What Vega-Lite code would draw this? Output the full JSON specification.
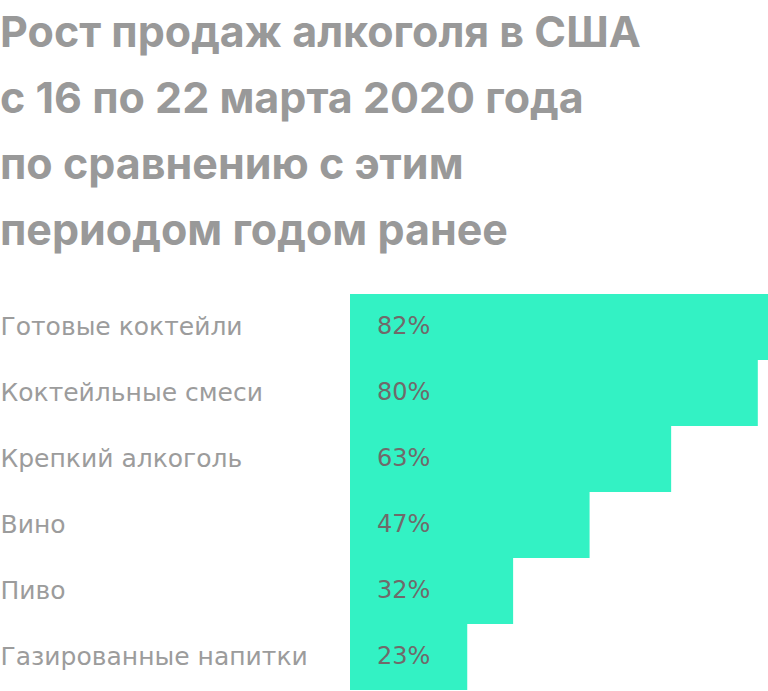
{
  "$schema": "https://vega.github.io/schema/vega-lite/v6.json",
  "width": 418,
  "height": 396,
  "autosize": "none",
  "padding": {"left": 350, "top": 294, "right": 0, "bottom": 1},
  "background": "#ffffff",
  "config": {"view": {"stroke": null}, "font": "Inter"},
  "title": {
    "text": ["Рост продаж алкоголя в США", "с 16 по 22 марта 2020 года", "по сравнению с этим", "периодом годом ранее"],
    "anchor": "start",
    "frame": "group",
    "orient": "top",
    "dx": -350,
    "offset": 6,
    "baseline": "alphabetic",
    "lineHeight": 66,
    "fontSize": 43,
    "fontWeight": "bold",
    "color": "#999999",
    "font": "Inter"
  },
  "data": {
    "values": [
      {"category": "Готовые коктейли", "value": 0.82},
      {"category": "Коктейльные смеси", "value": 0.80},
      {"category": "Крепкий алкоголь", "value": 0.63},
      {"category": "Вино", "value": 0.47},
      {"category": "Пиво", "value": 0.32},
      {"category": "Газированные напитки", "value": 0.23}
    ]
  },
  "encoding": {
    "y": {
      "field": "category",
      "type": "nominal",
      "sort": null,
      "scale": {"paddingInner": 0, "paddingOuter": 0},
      "axis": {
        "title": null,
        "domain": false,
        "ticks": false,
        "labelAlign": "left",
        "labelPadding": 350,
        "labelFontSize": 25,
        "labelFontWeight": "normal",
        "labelColor": "#9c9c9c",
        "labelFont": "DejaVu Sans",
        "labelLimit": 400
      }
    }
  },
  "layer": [
    {
      "mark": {"type": "bar", "color": "#33F2C4"},
      "encoding": {
        "x": {"field": "value", "type": "quantitative", "scale": {"domain": [0, 0.82], "nice": false}, "axis": null}
      }
    },
    {
      "mark": {"type": "text", "align": "left", "baseline": "middle", "dx": 27, "fontSize": 24, "color": "#706a6a", "font": "DejaVu Sans"},
      "encoding": {
        "x": {"datum": 0, "type": "quantitative"},
        "text": {"field": "value", "type": "quantitative", "format": ".0%"}
      }
    }
  ]
}
